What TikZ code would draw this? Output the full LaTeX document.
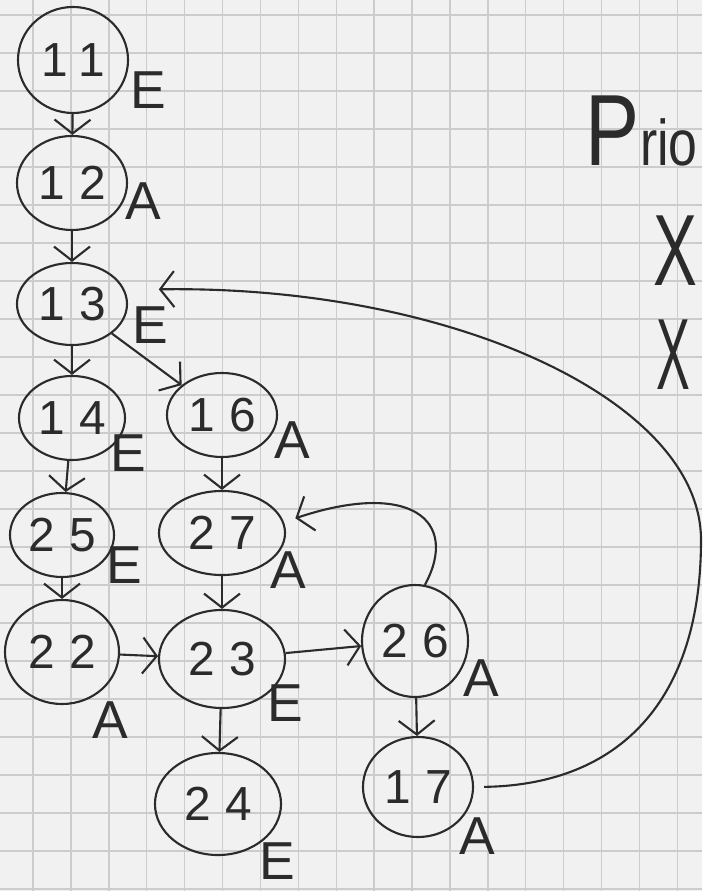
\documentclass[tikz,border=0pt]{standalone}
\usepackage{fontspec}
\usepackage{xcolor}
\newfontfamily\handfont[LetterSpace=30]{Liberation Sans}
\newfontfamily\labelfont{Liberation Sans}
\definecolor{ink}{HTML}{2B2B2B}
\definecolor{paper}{HTML}{F1F1F1}
\usetikzlibrary{arrows.meta,shapes.geometric}

\begin{document}
\begin{tikzpicture}[
    x=0.025cm, y=-0.025cm,
    state/.style={ellipse, draw=ink, line width=1.5pt, inner sep=0pt, text=ink, font=\handfont\fontsize{34}{34}\selectfont},
    lbl/.style={text=ink, font=\labelfont\fontsize{38}{38}\selectfont},
    arrow/.style={-{Straight Barb[length=3.5mm, width=9mm]}, line width=1.5pt, draw=ink},
    gridline/.style={draw=gray!40, line width=1pt}
]
\clip (0,0) rectangle (702,891);
\fill[paper] (0,0) rectangle (702,891);
\foreach \i in {0,...,18} {\draw[gridline] ({33+37.9*\i},0) -- ({33+37.9*\i},891);}
\foreach \j in {0,...,23} {\draw[gridline] (0,{15+38*\j}) -- (702,{15+38*\j});}

\node[state, minimum width=2.75cm, minimum height=2.65cm] (s11) at (73,60) {11};
\node[state, minimum width=2.75cm, minimum height=2.35cm] (s12) at (72,183) {12};
\node[state, minimum width=2.75cm, minimum height=2.05cm] (s13) at (72,304) {13};
\node[state, minimum width=2.65cm, minimum height=2.1cm] (s14) at (72,418) {14};
\node[state, minimum width=2.75cm, minimum height=2.1cm] (s16) at (222,415) {16};
\node[state, minimum width=2.6cm, minimum height=2.1cm] (s25) at (62,535) {25};
\node[state, minimum width=3.15cm, minimum height=2.1cm] (s27) at (222,533) {27};
\node[state, minimum width=2.85cm, minimum height=2.6cm] (s22) at (62,652) {22};
\node[state, minimum width=3.15cm, minimum height=2.45cm] (s23) at (222,659) {23};
\node[state, minimum width=2.65cm, minimum height=2.8cm] (s26) at (415,641) {26};
\node[state, minimum width=3.15cm, minimum height=2.55cm] (s24) at (218,804) {24};
\node[state, minimum width=2.75cm, minimum height=2.5cm] (s17) at (418,787) {17};

\node[lbl] (l11) at (148,90) {E};
\node[lbl] (l12) at (143,201) {A};
\node[lbl] (l13) at (150,325) {E};
\node[lbl] (l14) at (128,453) {E};
\node[lbl] (l16) at (292,440) {A};
\node[lbl] (l25) at (124,565) {E};
\node[lbl] (l27) at (288,570) {A};
\node[lbl] (l22) at (110,720) {A};
\node[lbl] (l23) at (285,703) {E};
\node[lbl] (l26) at (481,678) {A};
\node[lbl] (l24) at (277,861) {E};
\node[lbl] (l17) at (477,836) {A};

\node[lbl, anchor=base west, xscale=0.8, transform shape] (prio) at (582,166) {{\fontsize{72}{72}\selectfont P}{\fontsize{46}{46}\selectfont rio}};
\node[lbl, font=\labelfont\fontsize{72}{72}\selectfont, xscale=0.65, transform shape] (x1) at (675,251) {X};
\node[lbl, font=\labelfont\fontsize{72}{72}\selectfont, xscale=0.5, transform shape] (x2) at (673,355) {X};

\draw[arrow] (s11) -- (s12);
\draw[arrow] (s12) -- (s13);
\draw[arrow] (s13) -- (s14);
\draw[arrow] (s13) -- (s16);
\draw[arrow] (s14) -- (s25);
\draw[arrow] (s16) -- (s27);
\draw[arrow] (s25) -- (s22);
\draw[arrow] (s27) -- (s23);
\draw[arrow] (s22) -- (s23);
\draw[arrow] (s23) -- (s26);
\draw[arrow] (s23) -- (s24);
\draw[arrow] (s26) -- (s17);
\draw[arrow, shorten >=0.3cm] (s26.80) .. controls (460,520) and (410,480) .. (s27.10);
\draw[arrow, shorten <=0.25cm, shorten >=0.85cm] (s17.east) .. controls (620,785) and (701,700) .. (701,540) .. controls (701,400) and (450,285) .. (s13.15);
\end{tikzpicture}
\end{document}
